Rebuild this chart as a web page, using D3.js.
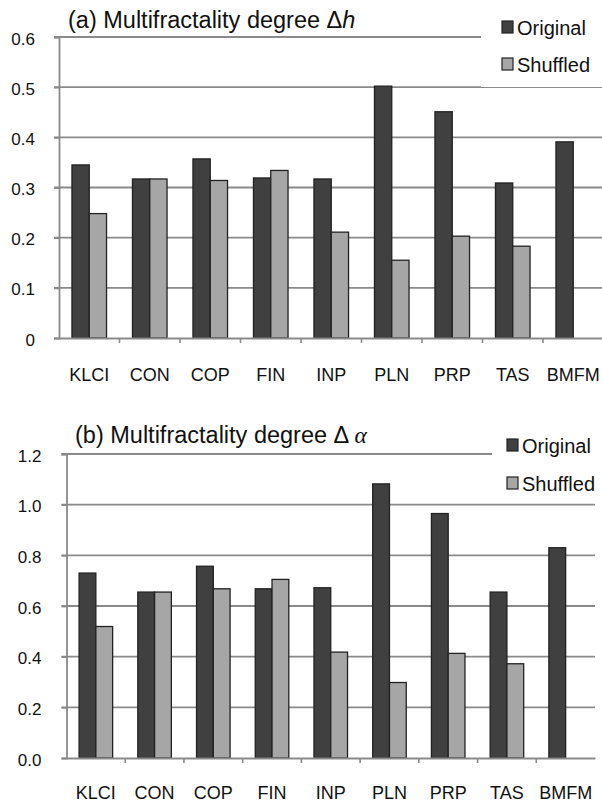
<!DOCTYPE html>
<html>
<head>
<meta charset="utf-8">
<script src="https://cdn.jsdelivr.net/npm/d3@7"></script>
<style>
  body { margin: 0; background: #fff; }
  text { font-family: "Liberation Sans", Arial, sans-serif; fill: #111; }
</style>
</head>
<body>
<svg width="602" height="806"></svg>
<script>
const categories = ["KLCI", "CON", "COP", "FIN", "INP", "PLN", "PRP", "TAS", "BMFM"];
const series = ["Original", "Shuffled"];
// panel (a): delta h
const originalA = [0.345, 0.317, 0.357, 0.319, 0.317, 0.502, 0.451, 0.309, 0.391];
const shuffledA = [0.248, 0.317, 0.314, 0.334, 0.211, 0.155, 0.203, 0.183, null];
const ticksA = [0, 0.1, 0.2, 0.3, 0.4, 0.5, 0.6];
// panel (b): delta alpha
const originalB = [0.730, 0.655, 0.757, 0.668, 0.672, 1.082, 0.965, 0.655, 0.830];
const shuffledB = [0.519, 0.655, 0.668, 0.705, 0.418, 0.298, 0.413, 0.372, null];
const ticksB = [0, 0.2, 0.4, 0.6, 0.8, 1.0, 1.2];

const colors = { Original: "#404040", Shuffled: "#a6a6a6" };
const gridColor = "#8a8a8a";
const svg = d3.select("svg");

function drawPanel(cfg) {
  const g = svg.append("g");
  const x = d3.scaleBand().domain(categories).range([cfg.left, cfg.right]).padding(0);
  const xs = d3.scaleBand().domain(series).range([0, x.bandwidth()])
    .paddingInner(0).paddingOuter(0.75);
  const y = d3.scaleLinear().domain([0, d3.max(cfg.ticks)]).range([cfg.bottom, cfg.top]);

  // gridlines
  g.append("g").selectAll("line")
    .data(cfg.ticks.filter(d => d > 0))
    .enter().append("line")
    .attr("x1", cfg.left - 5).attr("x2", cfg.right)
    .attr("y1", d => y(d)).attr("y2", d => y(d))
    .attr("stroke", gridColor).attr("stroke-width", 1.8);

  // y axis
  const yAxis = g.append("g")
    .attr("transform", `translate(${cfg.left},0)`)
    .call(d3.axisLeft(y).tickValues(cfg.ticks).tickFormat(cfg.fmt).tickSize(5).tickPadding(cfg.yPad));
  yAxis.select(".domain").attr("stroke", gridColor).attr("stroke-width", 1.8);
  yAxis.selectAll(".tick line").attr("stroke", gridColor).attr("stroke-width", 1.8);
  yAxis.selectAll(".tick text").style("font-size", "17px").attr("fill", "#111")
    .attr("dy", "0.42em")
    .style("font-family", "Liberation Sans, Arial, sans-serif");

  // bars
  const rows = categories.map((c, i) => ({ cat: c, Original: cfg.orig[i], Shuffled: cfg.shuf[i] }));
  g.append("g").selectAll("g")
    .data(rows)
    .enter().append("g")
    .attr("transform", d => `translate(${x(d.cat)},0)`)
    .selectAll("rect")
    .data(d => series.filter(s => d[s] != null).map(s => ({ key: s, value: d[s] })))
    .enter().append("rect")
    .attr("x", d => xs(d.key))
    .attr("width", xs.bandwidth())
    .attr("y", d => y(d.value))
    .attr("height", d => y(0) - y(d.value))
    .attr("fill", d => colors[d.key])
    .attr("stroke", "#222").attr("stroke-width", 1.3);

  // x axis
  const xAxis = g.append("g")
    .attr("transform", `translate(0,${cfg.bottom})`)
    .call(d3.axisBottom(x).tickSize(0).tickPadding(cfg.labelPad));
  xAxis.select(".domain").attr("stroke", gridColor).attr("stroke-width", 1.8);
  xAxis.selectAll(".tick text").style("font-size", "18px").attr("fill", "#111")
    .style("font-family", "Liberation Sans, Arial, sans-serif");
  // tick marks at category boundaries
  g.append("g").selectAll("line")
    .data(categories.slice(1))
    .enter().append("line")
    .attr("x1", d => x(d)).attr("x2", d => x(d))
    .attr("y1", cfg.bottom).attr("y2", cfg.bottom + 5)
    .attr("stroke", gridColor).attr("stroke-width", 1.6);

  // legend (white box covers top gridline)
  const lg = g.append("g");
  lg.append("rect")
    .attr("x", cfg.boxX).attr("y", cfg.legY - 22)
    .attr("width", 602 - cfg.boxX).attr("height", cfg.legH)
    .attr("fill", "#fff");
  series.forEach((s, i) => {
    const yy = cfg.legY + i * cfg.legStep;
    lg.append("rect")
      .attr("x", cfg.legX).attr("y", yy - 6)
      .attr("width", 11).attr("height", 12)
      .attr("fill", colors[s]).attr("stroke", "#222").attr("stroke-width", 1.2);
    lg.append("text")
      .attr("x", cfg.legX + 15).attr("y", yy + 7.5)
      .style("font-size", "20px")
      .text(s);
  });

  // title
  const t = g.append("text")
    .attr("x", cfg.titleX).attr("y", cfg.titleY)
    .style("font-size", "23.5px");
  t.append("tspan").text(cfg.title);
  t.append("tspan").text(cfg.sym)
    .style("font-style", "italic")
    .style("font-family", cfg.symFont);
}

drawPanel({
  left: 59, right: 603.5, top: 37, bottom: 338,
  ticks: ticksA, fmt: d => d === 0 ? "0" : d3.format(".1f")(d), yPad: 19,
  orig: originalA, shuf: shuffledA, labelPad: 30,
  boxX: 481, legX: 502, legY: 27, legStep: 37, legH: 82,
  title: "(a) Multifractality degree \u0394", sym: "h", symFont: "Liberation Sans, Arial, sans-serif",
  titleX: 68, titleY: 28
});

drawPanel({
  left: 66.5, right: 595, top: 454, bottom: 758,
  ticks: ticksB, fmt: d3.format(".1f"), yPad: 20,
  orig: originalB, shuf: shuffledB, labelPad: 28,
  boxX: 492, legX: 507, legY: 445, legStep: 38, legH: 80,
  title: "(b) Multifractality degree \u0394 ", sym: "\u03b1", symFont: "Liberation Serif, serif",
  titleX: 75, titleY: 443
});
</script>
</body>
</html>
